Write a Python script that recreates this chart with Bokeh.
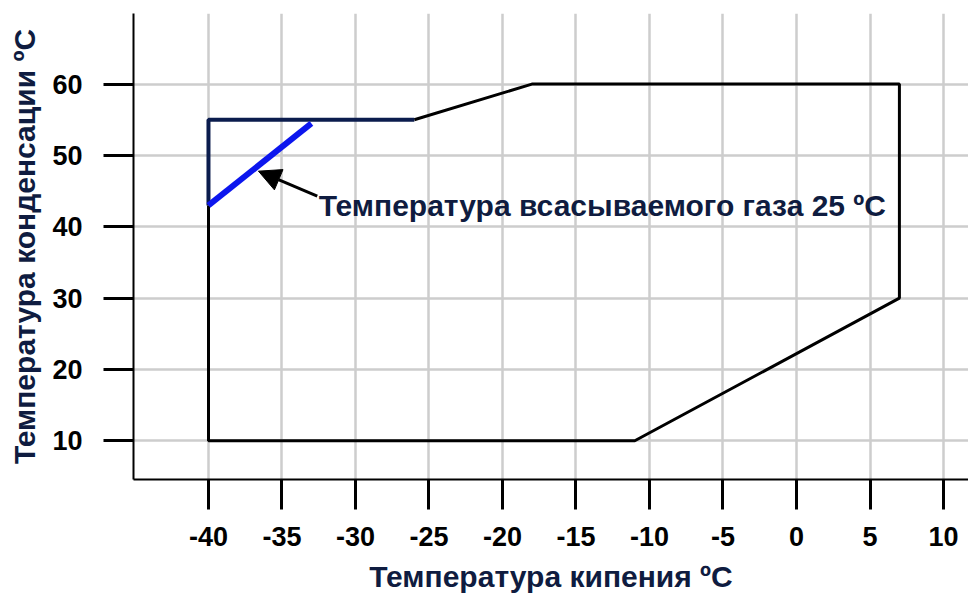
from bokeh.plotting import figure
from bokeh.models import FixedTicker, Arrow, NormalHead, Range1d, Label
from bokeh.embed import file_html
from bokeh.resources import INLINE

# --- data ---
x_ticks = [-40, -35, -30, -25, -20, -15, -10, -5, 0, 5, 10]
x_tick_labels = ["-40", "-35", "-30", "-25", "-20", "-15", "-10", "-5", "0", "5", "10"]
y_ticks = [10, 20, 30, 40, 50, 60]
y_tick_labels = ["10", "20", "30", "40", "50", "60"]

# operating envelope (black part)
env_x = [-40, -40, -11, 7, 7, -18, -26]
env_y = [43, 10, 10, 30, 60, 60, 55]
# navy part of the envelope
navy_x = [-26, -40, -40]
navy_y = [55, 55, 43]
# suction gas 25 C limit line
suction_x = [-40, -33]
suction_y = [43, 54.5]
# annotation
arrow_from = (-32.6, 44.3)
arrow_to = (-36.6, 47.8)
note_pos = (-32.5, 43.0)
note_text = "Температура всасываемого газа 25 ºC"
x_label = "Температура кипения ºC"
y_label = "Температура конденсации ºC"

FONT = "Liberation Sans"
LABEL_COLOR = "#0f1c40"

p = figure(width=968, height=595,
           x_range=Range1d(-45.1, 11.7), y_range=Range1d(4.57, 69.9),
           output_backend="svg", toolbar_location=None,
           min_border_left=133, min_border_top=13, min_border_right=0,
           min_border_bottom=113)
p.outline_line_color = None
p.background_fill_color = "white"
p.border_fill_color = "white"

for ax, ticks, labels in ((p.xaxis[0], x_ticks, x_tick_labels), (p.yaxis[0], y_ticks, y_tick_labels)):
    ax.ticker = FixedTicker(ticks=ticks)
    ax.major_label_overrides = {t: l for t, l in zip(ticks, labels)}
    ax.major_tick_out = 30
    ax.major_tick_in = 0
    ax.minor_tick_line_color = None
    ax.major_tick_line_width = 3
    ax.major_tick_line_color = "black"
    ax.axis_line_width = 2
    ax.axis_line_color = "black"
    ax.major_label_text_font = FONT
    ax.major_label_text_font_style = "bold"
    ax.major_label_text_font_size = "27px"
    ax.major_label_text_color = "black"
    ax.axis_label_text_font = FONT
    ax.axis_label_text_font_style = "bold"
    ax.axis_label_text_font_size = "30px"
    ax.axis_label_text_color = LABEL_COLOR

p.xaxis.axis_label = x_label
p.yaxis.axis_label = y_label
p.xaxis.major_label_standoff = 17
p.yaxis.major_label_standoff = 21
p.xaxis.axis_label_standoff = 11
p.yaxis.axis_label_standoff = 8

for g in (p.xgrid[0], p.ygrid[0]):
    g.grid_line_color = "#cdcdcd"
    g.grid_line_width = 2.5

p.line(env_x, env_y, line_color="black", line_width=3)
p.line(navy_x, navy_y, line_color="#0b1c4d", line_width=4)
p.line(suction_x, suction_y, line_color="#0c16ee", line_width=6)

p.add_layout(Arrow(end=NormalHead(size=22, fill_color="black", line_color="black"),
                   x_start=arrow_from[0], y_start=arrow_from[1],
                   x_end=arrow_to[0], y_end=arrow_to[1],
                   line_width=3, line_color="black"))
p.add_layout(Label(x=note_pos[0], y=note_pos[1], text=note_text,
                   text_font=FONT, text_font_style="bold", text_font_size="30px",
                   text_baseline="middle", text_color=LABEL_COLOR))

open("out.html", "w").write(file_html(p, INLINE))
